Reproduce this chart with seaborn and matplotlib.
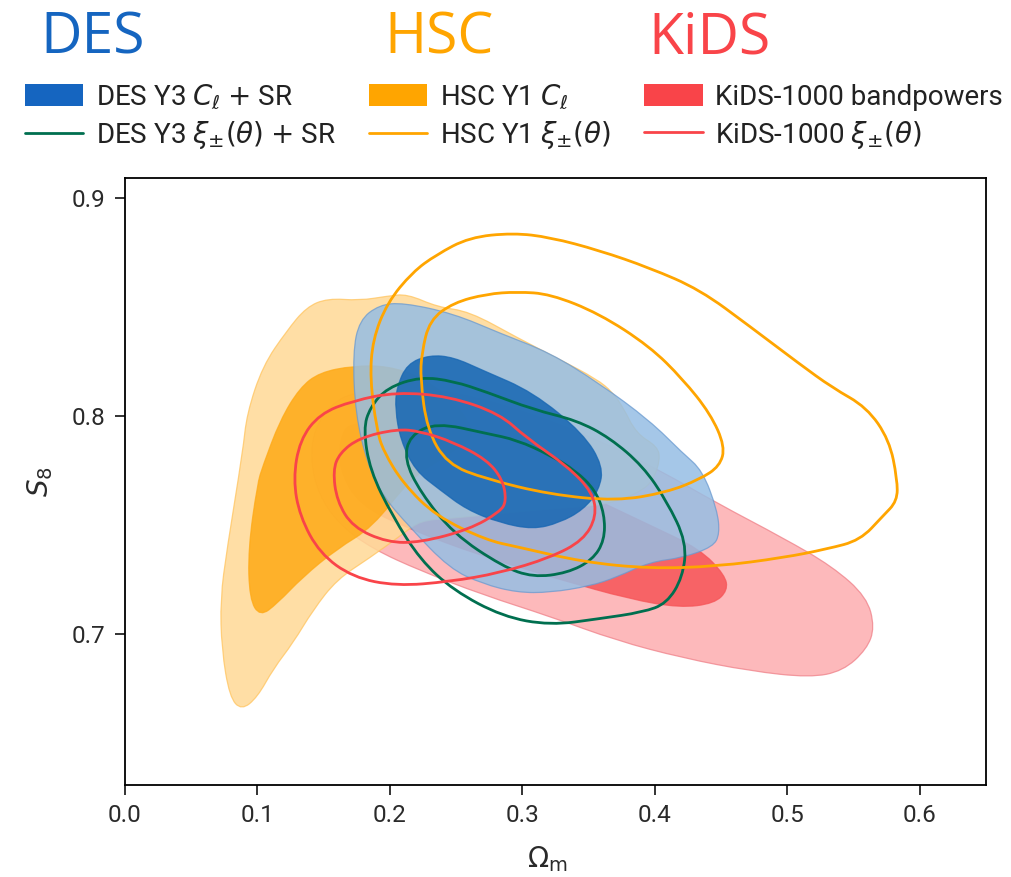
import numpy as np
import pandas as pd
import matplotlib
matplotlib.use("Agg")
import matplotlib.pyplot as plt
import seaborn as sns
from matplotlib.patches import Patch, PathPatch
from matplotlib.lines import Line2D
from matplotlib.path import Path

# ---------------- data (Omega_m, S8) contour outlines ----------------
# HSC Y1 C_ell filled contours
hsc_fill_outer_om = [0.153, 0.177, 0.198, 0.213, 0.236, 0.260, 0.296, 0.328, 0.356, 0.368, 0.376, 0.386,
                     0.402, 0.404, 0.399, 0.391, 0.376, 0.359, 0.313, 0.245, 0.223, 0.210, 0.185, 0.160,
                     0.142, 0.127, 0.112, 0.100, 0.088, 0.079, 0.073, 0.072, 0.077, 0.089, 0.092, 0.104,
                     0.122, 0.137]
hsc_fill_outer_s8 = [0.854, 0.853, 0.855, 0.856, 0.850, 0.848, 0.836, 0.826, 0.817, 0.811, 0.804, 0.792,
                     0.786, 0.780, 0.771, 0.766, 0.762, 0.759, 0.757, 0.753, 0.752, 0.746, 0.735, 0.725,
                     0.711, 0.696, 0.684, 0.671, 0.665, 0.671, 0.693, 0.716, 0.739, 0.784, 0.801, 0.823,
                     0.839, 0.850]
hsc_fill_inner_om = [0.172, 0.198, 0.223, 0.248, 0.263, 0.260, 0.238, 0.215, 0.187, 0.160, 0.134, 0.115,
                     0.102, 0.094, 0.093, 0.100, 0.104, 0.117, 0.132, 0.147]
hsc_fill_inner_s8 = [0.823, 0.823, 0.818, 0.807, 0.794, 0.789, 0.780, 0.771, 0.749, 0.739, 0.726, 0.714,
                     0.708, 0.716, 0.739, 0.769, 0.777, 0.798, 0.813, 0.820]

# DES Y3 C_ell + SR filled contours
des_fill_outer_om = [0.172, 0.177, 0.192, 0.210, 0.248, 0.283, 0.321, 0.358, 0.396, 0.421, 0.436, 0.447,
                     0.449, 0.444, 0.421, 0.396, 0.371, 0.351, 0.321, 0.296, 0.270, 0.245, 0.215, 0.195,
                     0.183, 0.174]
des_fill_outer_s8 = [0.829, 0.844, 0.851, 0.852, 0.847, 0.838, 0.829, 0.815, 0.798, 0.783, 0.775, 0.757,
                     0.746, 0.740, 0.735, 0.733, 0.726, 0.722, 0.719, 0.719, 0.723, 0.730, 0.749, 0.763,
                     0.778, 0.801]
des_fill_inner_om = [0.205, 0.213, 0.230, 0.248, 0.270, 0.308, 0.346, 0.361, 0.358, 0.346, 0.328, 0.308,
                     0.283, 0.258, 0.238, 0.219, 0.208, 0.204]
des_fill_inner_s8 = [0.813, 0.824, 0.828, 0.827, 0.821, 0.811, 0.792, 0.777, 0.766, 0.757, 0.751, 0.748,
                     0.751, 0.757, 0.766, 0.775, 0.789, 0.803]

# KiDS-1000 bandpowers filled contours
kids_fill_outer_om = [0.140, 0.143, 0.155, 0.172, 0.210, 0.248, 0.298, 0.358, 0.404, 0.447, 0.497, 0.534,
                      0.560, 0.566, 0.560, 0.542, 0.517, 0.472, 0.421, 0.371, 0.321, 0.270, 0.223, 0.187,
                      0.162, 0.146]
kids_fill_outer_s8 = [0.780, 0.794, 0.805, 0.811, 0.813, 0.811, 0.803, 0.789, 0.775, 0.760, 0.744, 0.731,
                      0.717, 0.703, 0.693, 0.683, 0.680, 0.683, 0.689, 0.697, 0.708, 0.718, 0.729, 0.739,
                      0.750, 0.764]
kids_fill_inner_om = [0.170, 0.223, 0.283, 0.351, 0.396, 0.434, 0.453, 0.455, 0.445, 0.419, 0.381, 0.328,
                      0.268, 0.215, 0.177, 0.162, 0.162]
kids_fill_inner_s8 = [0.798, 0.794, 0.782, 0.763, 0.750, 0.739, 0.727, 0.720, 0.714, 0.712, 0.716, 0.725,
                      0.736, 0.748, 0.759, 0.775, 0.789]

# HSC Y1 xi_pm line contours
hsc_line_outer_om = [0.293, 0.321, 0.358, 0.396, 0.434, 0.472, 0.509, 0.534, 0.560, 0.577, 0.583, 0.583,
                     0.572, 0.555, 0.530, 0.497, 0.447, 0.396, 0.346, 0.296, 0.273, 0.235, 0.210, 0.195,
                     0.190, 0.185, 0.187, 0.198, 0.217, 0.235, 0.260]
hsc_line_outer_s8 = [0.884, 0.882, 0.876, 0.868, 0.858, 0.841, 0.824, 0.813, 0.804, 0.789, 0.771, 0.761,
                     0.754, 0.743, 0.739, 0.735, 0.731, 0.730, 0.733, 0.740, 0.743, 0.754, 0.769, 0.784,
                     0.794, 0.817, 0.835, 0.852, 0.866, 0.874, 0.882]
hsc_line_inner_om = [0.296, 0.321, 0.358, 0.396, 0.421, 0.442, 0.453, 0.449, 0.434, 0.409, 0.371, 0.321,
                     0.273, 0.243, 0.228, 0.223, 0.224, 0.230, 0.248, 0.273]
hsc_line_inner_s8 = [0.857, 0.856, 0.847, 0.832, 0.817, 0.801, 0.786, 0.777, 0.771, 0.765, 0.761, 0.764,
                     0.771, 0.778, 0.794, 0.817, 0.829, 0.844, 0.852, 0.856]

# DES Y3 xi_pm + SR line contours
des_line_outer_om = [0.223, 0.248, 0.273, 0.308, 0.341, 0.366, 0.391, 0.409, 0.424, 0.421, 0.409, 0.391,
                     0.358, 0.321, 0.285, 0.248, 0.223, 0.202, 0.185, 0.180, 0.185, 0.198]
des_line_outer_s8 = [0.818, 0.816, 0.811, 0.803, 0.798, 0.790, 0.777, 0.761, 0.742, 0.726, 0.714, 0.710,
                     0.707, 0.704, 0.708, 0.720, 0.734, 0.754, 0.775, 0.794, 0.804, 0.813]
des_line_inner_om = [0.235, 0.273, 0.296, 0.321, 0.340, 0.355, 0.362, 0.362, 0.353, 0.334, 0.308, 0.285,
                     0.248, 0.223, 0.211, 0.215]
des_line_inner_s8 = [0.797, 0.792, 0.789, 0.782, 0.775, 0.766, 0.755, 0.743, 0.734, 0.728, 0.726, 0.731,
                     0.746, 0.765, 0.780, 0.791]

# KiDS-1000 xi_pm line contours
kids_line_outer_om = [0.205, 0.245, 0.283, 0.303, 0.334, 0.353, 0.356, 0.346, 0.321, 0.283, 0.245, 0.205,
                      0.172, 0.147, 0.132, 0.127, 0.132, 0.147, 0.172]
kids_line_outer_s8 = [0.811, 0.809, 0.801, 0.790, 0.777, 0.765, 0.754, 0.743, 0.735, 0.728, 0.724, 0.722,
                      0.726, 0.737, 0.754, 0.771, 0.789, 0.801, 0.807]
kids_line_inner_om = [0.205, 0.223, 0.248, 0.273, 0.285, 0.288, 0.283, 0.260, 0.223, 0.198, 0.172, 0.160,
                      0.157, 0.162, 0.177]
kids_line_inner_s8 = [0.794, 0.793, 0.788, 0.780, 0.771, 0.761, 0.756, 0.748, 0.742, 0.742, 0.749, 0.761,
                      0.775, 0.783, 0.790]

x_ticks = [0.0, 0.1, 0.2, 0.3, 0.4, 0.5, 0.6]
y_ticks = [0.7, 0.8, 0.9]
survey_titles = ["DES", "HSC", "KiDS"]
legend_labels = [r"DES Y3 $C_\ell$ $+$ SR", r"DES Y3 $\xi_{\pm}(\theta)$ $+$ SR",
                 r"HSC Y1 $C_\ell$", r"HSC Y1 $\xi_{\pm}(\theta)$",
                 "KiDS-1000 bandpowers", r"KiDS-1000 $\xi_{\pm}(\theta)$"]

# ---------------- style ----------------
C_DES = "#1565c0"
C_HSC = "#ffa500"
C_KIDS = "#f94449"
C_GREEN = "#006f4f"

sns.set_theme(style="ticks")
plt.rcParams["font.family"] = ["Roboto", "DejaVu Sans"]
plt.rcParams["mathtext.fontset"] = "dejavusans"

fig = plt.figure(figsize=(10.12, 8.77), dpi=100)
ax = fig.add_axes([0.1235, 0.1049, 0.8508, 0.6921])


def smooth_closed_path(xs, ys):
    """Closed smooth outline (quadratic B-spline) through the read contour vertices."""
    pts = np.column_stack([xs, ys])
    nxt = np.roll(pts, -1, axis=0)
    mids = 0.5 * (pts + nxt)
    verts = [mids[-1]]
    codes = [Path.MOVETO]
    for p, m in zip(pts, mids):
        verts += [p, m]
        codes += [Path.CURVE3, Path.CURVE3]
    verts.append(mids[-1])
    codes.append(Path.CLOSEPOLY)
    return Path(verts, codes)


def fill_region(xs, ys, face, edge, alpha=0.85, z=1):
    ax.add_patch(PathPatch(smooth_closed_path(xs, ys), facecolor=face, alpha=alpha,
                           edgecolor="none", zorder=z))
    ax.add_patch(PathPatch(smooth_closed_path(xs, ys), facecolor="none", edgecolor=edge,
                           lw=0.9, alpha=0.75, zorder=z))


def line_region(xs, ys, col):
    ax.add_patch(PathPatch(smooth_closed_path(xs, ys), facecolor="none", edgecolor=col,
                           lw=2.0, zorder=3, joinstyle="round"))


# filled contours: KiDS, HSC, DES
fill_region(kids_fill_outer_om, kids_fill_outer_s8, "#fdadb0", "#ef8088")
fill_region(kids_fill_inner_om, kids_fill_inner_s8, "#f65457", "#f65457")
fill_region(hsc_fill_outer_om, hsc_fill_outer_s8, "#ffd996", "#ffc45e")
fill_region(hsc_fill_inner_om, hsc_fill_inner_s8, "#fea915", "#fea915")
fill_region(des_fill_outer_om, des_fill_outer_s8, "#96bee4", "#6a9ad0")
fill_region(des_fill_inner_om, des_fill_inner_s8, "#1565b2", "#1565b2")

# line contours
line_region(des_line_outer_om, des_line_outer_s8, C_GREEN)
line_region(des_line_inner_om, des_line_inner_s8, C_GREEN)
line_region(hsc_line_outer_om, hsc_line_outer_s8, C_HSC)
line_region(hsc_line_inner_om, hsc_line_inner_s8, C_HSC)
line_region(kids_line_outer_om, kids_line_outer_s8, C_KIDS)
line_region(kids_line_inner_om, kids_line_inner_s8, C_KIDS)

ax.set_xlim(0.0, 0.65)
ax.set_ylim(0.6307, 0.9092)
ax.set_xticks(x_ticks)
ax.set_xticklabels([f"{v:.1f}" for v in x_ticks])
ax.set_yticks(y_ticks)
ax.set_yticklabels([f"{v:.1f}" for v in y_ticks])
ax.tick_params(direction="out", length=7, width=1.2, pad=7, labelsize=17.5, colors="#111111")
ax.tick_params(axis="both", labelcolor="#2a2a2a")
for sp in ax.spines.values():
    sp.set_linewidth(1.3)
    sp.set_color("black")
ax.set_xlabel(r"$\Omega_{\rm m}$", fontsize=20, color="#2a2a2a")
ax.set_ylabel(r"$S_8$", fontsize=20, color="#2a2a2a")
ax.xaxis.set_label_coords(0.49, -0.098)
ax.yaxis.set_label_coords(-0.081, 0.5)

# survey titles
title_cols = [C_DES, C_HSC, C_KIDS]
title_x = [0.0914, 0.4338, 0.7006]
for name, col, xc in zip(survey_titles, title_cols, title_x):
    fig.text(xc, 0.9555, name, color=col, fontsize=41, family=["Open Sans", "DejaVu Sans"],
             ha="center", va="center")

# legend
handles = [Patch(facecolor=C_DES, edgecolor="none"), Line2D([], [], color=C_GREEN, lw=2),
           Patch(facecolor=C_HSC, edgecolor="none"), Line2D([], [], color=C_HSC, lw=2),
           Patch(facecolor=C_KIDS, edgecolor="none"), Line2D([], [], color=C_KIDS, lw=2)]
leg = fig.legend(handles, legend_labels, loc="upper left", bbox_to_anchor=(0.0247, 0.906),
                 ncol=3, frameon=False, fontsize=20, handlelength=2.1, handleheight=0.82,
                 handletextpad=0.45, labelspacing=0.28, columnspacing=1.2, borderpad=0,
                 borderaxespad=0)
for t in leg.get_texts():
    t.set_color("#222222")

fig.savefig("out.png", dpi=100)
